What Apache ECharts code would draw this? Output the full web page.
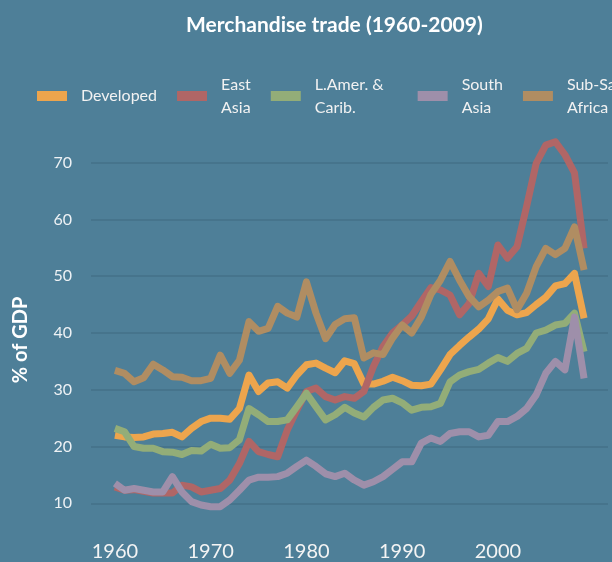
<!DOCTYPE html>
<html>
<head>
<meta charset="utf-8">
<title>Merchandise trade (1960-2009)</title>
<script src="https://cdn.jsdelivr.net/npm/echarts@6/dist/echarts.min.js"></script>
<style>
    html, body { margin: 0; padding: 0; background: #4e7f98; overflow: hidden; }
    #tradeChart { width: 612px; height: 562px; }
</style>
</head>
<body>
<div id="tradeChart"></div>
<script>
'use strict';

const years = [
    1960, 1961, 1962, 1963, 1964, 1965, 1966, 1967, 1968, 1969,
    1970, 1971, 1972, 1973, 1974, 1975, 1976, 1977, 1978, 1979,
    1980, 1981, 1982, 1983, 1984, 1985, 1986, 1987, 1988, 1989,
    1990, 1991, 1992, 1993, 1994, 1995, 1996, 1997, 1998, 1999,
    2000, 2001, 2002, 2003, 2004, 2005, 2006, 2007, 2008, 2009
];
const xTicks = [1960, 1970, 1980, 1990, 2000];

// % of GDP, one value per year
const developed = [
    22.0, 21.7, 21.6, 21.7, 22.2, 22.3, 22.5, 21.7, 23.2, 24.4,
    25.0, 25.0, 24.8, 26.7, 32.6, 29.7, 31.2, 31.4, 30.3, 32.6,
    34.4, 34.7, 33.8, 33.0, 35.1, 34.6, 31.0, 31.0, 31.5, 32.2,
    31.6, 30.8, 30.7, 31.0, 33.5, 36.2, 37.8, 39.3, 40.7, 42.5,
    46.0, 44.0, 43.2, 43.6, 45.0, 46.3, 48.3, 48.7, 50.5, 42.6
];
const eastAsia = [
    12.9, 12.3, 12.4, 12.1, 11.8, 11.8, 11.8, 13.2, 12.9, 12.0,
    12.3, 12.6, 14.1, 17.0, 20.9, 19.1, 18.6, 18.2, 22.9, 26.4,
    29.7, 30.3, 28.8, 28.2, 28.8, 28.5, 29.7, 34.1, 37.6, 40.0,
    41.4, 43.0, 45.5, 48.0, 47.6, 46.7, 43.2, 45.2, 50.5, 48.2,
    55.5, 53.2, 55.2, 62.3, 69.9, 73.1, 73.7, 71.4, 68.2, 54.9
];
const latinAmerica = [
    23.2, 22.6, 20.0, 19.7, 19.7, 19.1, 19.0, 18.6, 19.3, 19.2,
    20.4, 19.7, 19.8, 21.2, 26.7, 25.6, 24.4, 24.4, 24.7, 27.0,
    29.4, 27.0, 24.7, 25.6, 26.9, 25.9, 25.2, 26.9, 28.2, 28.5,
    27.7, 26.4, 26.9, 27.0, 27.6, 31.4, 32.6, 33.2, 33.6, 34.7,
    35.7, 35.0, 36.4, 37.3, 40.0, 40.5, 41.4, 41.7, 43.5, 36.7
];
const southAsia = [
    13.5, 12.3, 12.6, 12.3, 12.0, 12.0, 14.7, 12.0, 10.3, 9.7,
    9.4, 9.4, 10.6, 12.3, 14.1, 14.6, 14.6, 14.7, 15.3, 16.5,
    17.6, 16.5, 15.2, 14.7, 15.3, 14.1, 13.2, 13.8, 14.7, 16.0,
    17.3, 17.3, 20.6, 21.5, 20.9, 22.3, 22.6, 22.6, 21.7, 22.0,
    24.4, 24.4, 25.3, 26.7, 29.1, 32.9, 35.0, 33.5, 42.8, 32.0
];
const subSaharan = [
    33.4, 32.9, 31.4, 32.1, 34.5, 33.5, 32.3, 32.2, 31.6, 31.6,
    32.0, 36.1, 32.9, 35.2, 42.0, 40.3, 40.8, 44.7, 43.5, 42.8,
    49.0, 43.5, 39.0, 41.5, 42.5, 42.7, 35.6, 36.5, 36.2, 39.1,
    41.4, 40.0, 42.8, 46.8, 49.3, 52.6, 49.3, 46.4, 44.6, 45.8,
    47.3, 47.9, 44.1, 47.0, 51.7, 54.9, 53.8, 54.9, 58.7, 51.1
];

const regions = [
    { name: 'Developed', values: developed, color: '#eda54d' },
    { name: 'East\nAsia', values: eastAsia, color: '#b06666' },
    { name: 'L.Amer. &\nCarib.', values: latinAmerica, color: '#93ad78' },
    { name: 'South\nAsia', values: southAsia, color: '#9e8faa' },
    { name: 'Sub-Saharan\nAfrica', values: subSaharan, color: '#b08d62' }
];

const font = 'Lato';

let tradeChart = echarts.init(document.getElementById('tradeChart'));

let option = {
    backgroundColor: '#4e7f98',
    animation: false,
    textStyle: { fontFamily: font },
    title: {
        text: 'Merchandise trade (1960-2009)',
        left: 181,
        top: 10,
        textStyle: { color: '#ffffff', fontSize: 21, fontWeight: 'bold', fontFamily: font }
    },
    legend: {
        left: 32,
        top: 68,
        width: 900,
        icon: 'rect',
        itemWidth: 30,
        itemHeight: 10,
        itemGap: 20,
        textStyle: {
            color: '#f2f2f2', fontSize: 16, lineHeight: 23, fontFamily: font,
            padding: [0, 0, 0, 9]
        },
        data: regions.map(r => {
            // the L.Amer. entry sits a little wider in the original
            if (r.values === latinAmerica) {
                return { name: r.name, textStyle: { padding: [0, 14, 0, 9] } };
            }
            return r.name;
        })
    },
    grid: { left: 91, right: 4, top: 162.7, bottom: 58.7 },
    xAxis: {
        type: 'value',
        min: 1957.5,
        max: 2011.5,
        axisLine: { show: false },
        axisTick: { show: false },
        splitLine: { show: false },
        axisLabel: {
            customValues: xTicks,
            formatter: v => String(v),
            color: '#f4f4f4',
            fontSize: 20,
            margin: 38,
            fontFamily: font
        }
    },
    yAxis: {
        type: 'value',
        min: 10,
        max: 70,
        interval: 10,
        name: '% of GDP',
        nameLocation: 'middle',
        nameGap: 60,
        nameTextStyle: {
            color: '#ffffff', fontSize: 20, fontWeight: 'bold', fontFamily: font,
            padding: [0, 14, 0, 0]
        },
        axisLine: { show: false },
        axisTick: { show: false },
        axisLabel: { color: '#eef2f5', fontSize: 16, margin: 19, fontFamily: font },
        splitLine: { lineStyle: { color: '#46748c', width: 2 } }
    },
    series: regions.map(r => ({
        type: 'line',
        name: r.name,
        data: years.map((y, i) => [y, r.values[i]]),
        showSymbol: false,
        clip: false,
        color: r.color,
        lineStyle: { width: 7, color: r.color, join: 'round' }
    }))
};

tradeChart.setOption(option);
</script>
</body>
</html>
